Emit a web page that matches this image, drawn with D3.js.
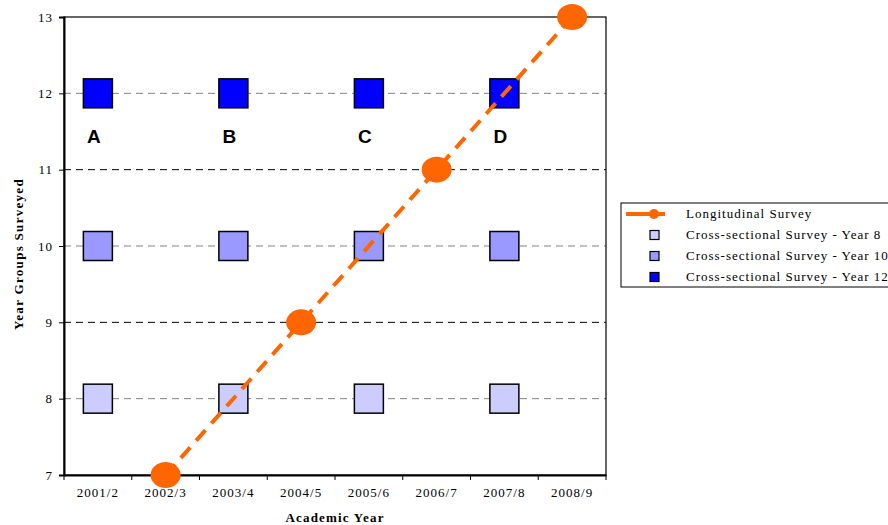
<!DOCTYPE html>
<html><head><meta charset="utf-8">
<script src="https://cdn.jsdelivr.net/npm/d3@7"></script>
<style>body{margin:0;background:#fff}svg{display:block}</style>
</head><body>
<svg id="c" width="888" height="525"></svg>
<script>
const categories = ["2001/2","2002/3","2003/4","2004/5","2005/6","2006/7","2007/8","2008/9"];
const yTicks = [7,8,9,10,11,12,13];
const longYears = ["2002/3","2004/5","2006/7","2008/9"];
const longValues = [7,9,11,13];
const crossYears = ["2001/2","2003/4","2005/6","2007/8"];
const year8Values = [8,8,8,8];
const year10Values = [10,10,10,10];
const year12Values = [12,12,12,12];
const labels = ["A","B","C","D"];
const labelY = 11.45;
const legendNames = ["Longitudinal Survey","Cross-sectional Survey - Year 8","Cross-sectional Survey - Year 10","Cross-sectional Survey - Year 12"];
const colors = {long:"#FF6600", y8:"#CCCCFF", y10:"#9999FF", y12:"#0000FF"};

const svg = d3.select("#c");
const L=64, R=606, T=17, B=475;
const x = d3.scaleBand().domain(categories).range([L,R]);
const y = d3.scaleLinear().domain([7,13]).range([B,T]);
const serif = "'Liberation Serif','Times New Roman',serif";

// gridlines
svg.append("g").selectAll("line").data(yTicks.filter(d=>d>7&&d<13)).join("line")
  .attr("x1",L).attr("x2",R).attr("y1",d=>y(d)).attr("y2",d=>y(d))
  .attr("stroke",d=>d%2===0?"#808080":"#000").attr("stroke-width",1)
  .attr("stroke-dasharray","7,5");

// frame
svg.append("rect").attr("x",L).attr("y",T).attr("width",R-L).attr("height",B-T)
  .attr("fill","none").attr("stroke","#000").attr("stroke-width",1.2);

// axes
const ya = svg.append("g").attr("transform",`translate(${L},0)`)
  .call(d3.axisLeft(y).tickValues(yTicks).tickSize(5).tickPadding(6).tickFormat(d3.format("d")));
ya.select(".domain").attr("stroke-width",2);
ya.selectAll("text").attr("font-family",serif).attr("font-size",13).attr("letter-spacing","1").attr("fill","#000");

const xa = svg.append("g").attr("transform",`translate(0,${B})`)
  .call(d3.axisBottom(x).tickSize(0).tickPadding(13));
xa.select(".domain").attr("stroke-width",2);
xa.selectAll("text").attr("font-family",serif).attr("font-size",13).attr("fill","#000").attr("letter-spacing","1");
// boundary ticks
xa.selectAll(".bt").data(categories.concat(["end"])).join("line").attr("class","bt")
  .attr("x1",(d,i)=>L+i*x.bandwidth()).attr("x2",(d,i)=>L+i*x.bandwidth())
  .attr("y1",0).attr("y2",5).attr("stroke","#000");

// axis titles
svg.append("text").attr("transform","translate(23,254) rotate(-90)").attr("text-anchor","middle")
  .attr("font-family",serif).attr("font-size",13).attr("font-weight","bold").attr("letter-spacing","1.3").text("Year Groups Surveyed");
svg.append("text").attr("x",335).attr("y",522).attr("text-anchor","middle")
  .attr("font-family",serif).attr("font-size",13).attr("font-weight","bold").attr("letter-spacing","1.2").text("Academic Year");

// cross-sectional squares
const sq = 29;
[[year8Values,colors.y8],[year10Values,colors.y10],[year12Values,colors.y12]].forEach(([vals,c])=>{
  svg.append("g").selectAll("rect").data(vals).join("rect")
    .attr("x",(d,i)=>x(crossYears[i])+x.bandwidth()/2-sq/2).attr("y",d=>y(d)-sq/2)
    .attr("width",sq).attr("height",sq).attr("fill",c).attr("stroke","#000").attr("stroke-width",1.5);
});

// letters
svg.append("g").selectAll("text").data(labels).join("text")
  .attr("x",(d,i)=>x(crossYears[i])+x.bandwidth()/2-4).attr("y",y(labelY)+8).attr("text-anchor","middle")
  .attr("font-family","'Liberation Sans',Arial,sans-serif").attr("font-weight","bold").attr("font-size",19).text(d=>d);

// longitudinal line
const pts = longValues.map((v,i)=>[x(longYears[i])+x.bandwidth()/2, y(v)]);
svg.append("path").attr("d",d3.line()(pts)).attr("fill","none").attr("stroke",colors.long)
  .attr("stroke-width",4).attr("stroke-dasharray","14,9");
svg.append("g").selectAll("ellipse").data(pts).join("ellipse")
  .attr("cx",d=>d[0]).attr("cy",d=>d[1]).attr("rx",15).attr("ry",13).attr("fill",colors.long);

// legend
const lg = svg.append("g");
lg.append("rect").attr("x",621).attr("y",203).attr("width",280).attr("height",84)
  .attr("fill","#fff").attr("stroke","#000").attr("stroke-width",1);
const ly = [214,235,256,277];
legendNames.forEach((n,i)=>{
  if(i===0){
    lg.append("line").attr("x1",626).attr("x2",665).attr("y1",ly[i]).attr("y2",ly[i]).attr("stroke",colors.long).attr("stroke-width",4);
    lg.append("circle").attr("cx",654).attr("cy",ly[i]).attr("r",5).attr("fill",colors.long);
  } else {
    const c=[colors.y8,colors.y10,colors.y12][i-1];
    lg.append("rect").attr("x",650).attr("y",ly[i]-4.5).attr("width",9).attr("height",9).attr("fill",c).attr("stroke","#000").attr("stroke-width",1.2);
  }
  lg.append("text").attr("x",686).attr("y",ly[i]+4).attr("font-family",serif).attr("font-size",13)
    .attr("letter-spacing","1").text(n);
});
</script>
</body></html>
